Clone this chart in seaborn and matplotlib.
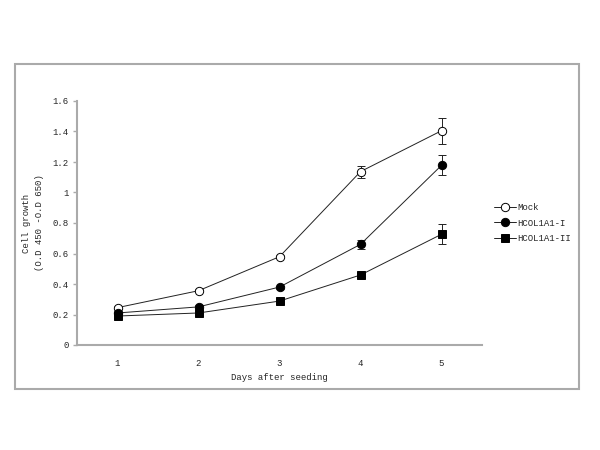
import matplotlib
matplotlib.use("Agg")
import matplotlib.pyplot as plt
import seaborn as sns
import pandas as pd
from matplotlib.patches import Rectangle

# DATA
days = [1, 2, 3, 4, 5]
mock = [0.245, 0.356, 0.579, 1.137, 1.405]
mock_err = [0.01, 0.01, 0.01, 0.04, 0.085]
hcol_1 = [0.21, 0.25, 0.38, 0.66, 1.178]
hcol_1_err = [0.01, 0.01, 0.01, 0.03, 0.065]
hcol_2 = [0.19, 0.21, 0.288, 0.459, 0.726]
hcol_2_err = [0.01, 0.01, 0.01, 0.01, 0.065]
series_names = ["Mock", "HCOL1A1-I", "HCOL1A1-II"]
y_ticks = [0, 0.2, 0.4, 0.6, 0.8, 1, 1.2, 1.4, 1.6]
y_tick_labels = ["0", "0.2", "0.4", "0.6", "0.8", "1", "1.2", "1.4", "1.6"]

sns.set_theme(style="white")
plt.rcParams['font.family'] = ['Liberation Mono', 'DejaVu Sans']

fig = plt.figure(figsize=(6, 4.5), dpi=100)
# outer grey frame
fig.patches.append(Rectangle((15 / 600, 1 - 389 / 450), 564 / 600, 325 / 450,
                             transform=fig.transFigure, fill=False,
                             edgecolor="#aaaaaa", linewidth=1.5))
ax = fig.add_axes([77 / 600, 1 - 345 / 450, 405 / 600, 244 / 450])

values = [mock, hcol_1, hcol_2]
errors = [mock_err, hcol_1_err, hcol_2_err]
markers = ["o", "o", "s"]
faces = ["white", "black", "black"]

for name, vals, errs, mk, fc in zip(series_names, values, errors, markers, faces):
    df = pd.DataFrame({"day": days, "value": vals})
    ax.errorbar(days, vals, yerr=errs, fmt="none", ecolor="#222222",
                elinewidth=0.7, capsize=3, capthick=0.7, zorder=2)
    sns.lineplot(data=df, x="day", y="value", ax=ax, color="#222222",
                 linewidth=0.7, marker=mk, markersize=6, markerfacecolor=fc,
                 markeredgecolor="black", markeredgewidth=0.7, label=name,
                 zorder=3)

ax.set_xlim(0.5, 5.5)
ax.set_ylim(0, 1.6)
ax.set_xticks(days)
ax.set_xticklabels([str(d) for d in days], fontsize=6.5)
ax.set_yticks(y_ticks)
ax.set_yticklabels(y_tick_labels, fontsize=6.5)
ax.tick_params(axis="y", length=3, width=1, color="#aaaaaa", pad=3, direction="out", left=True)
ax.tick_params(axis="x", length=0, pad=10)

for side in ["top", "right"]:
    ax.spines[side].set_visible(False)
for side in ["left", "bottom"]:
    ax.spines[side].set_color("#aaaaaa")
    ax.spines[side].set_linewidth(1.5)

ax.set_xlabel("Days after seeding", fontsize=6.5, labelpad=4)
ax.set_ylabel("Cell growth\n(O.D 450 -O.D 650)", fontsize=6.5, labelpad=6,
              linespacing=1.6)

ax.legend(loc="center left", bbox_to_anchor=(1.01, 0.50), frameon=False,
          fontsize=6.5, handlelength=2.4, handletextpad=0.2, labelspacing=0.75)

fig.savefig("out.png", dpi=100)
